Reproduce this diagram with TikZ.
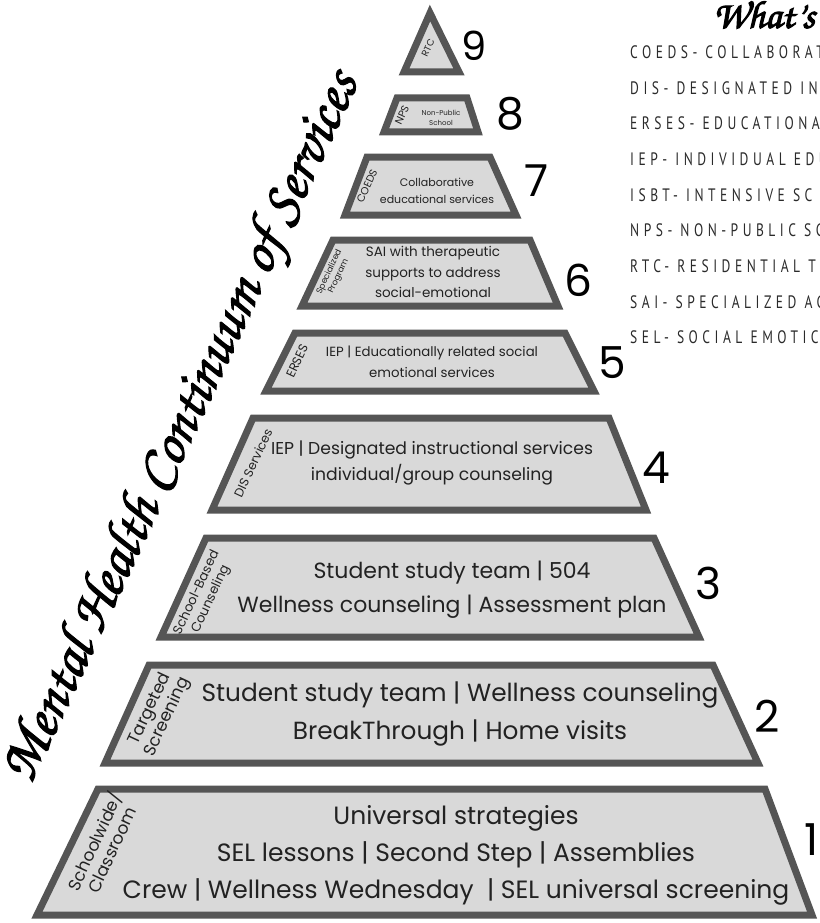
\documentclass[tikz,border=0pt]{standalone}
\usepackage{fontspec}
\setmainfont{Poppins}
\newfontfamily\legendfont[LetterSpace=25, FakeStretch=0.75]{PT Sans}
\usepackage{tikz}
\usetikzlibrary{positioning}
\newcommand{\handfont}{\usefont{OT1}{pzc}{mb}{it}}
\newcommand{\fsz}[2]{\fontsize{#1}{#2}\selectfont}
% heavier strokes for the hand lettering
\newcommand{\heavy}[1]{\special{pdf:literal q 2 Tr 1.1 w 0 G}#1\special{pdf:literal Q}}
\definecolor{tierfill}{HTML}{D9D9D9}
\definecolor{tierline}{HTML}{555555}
\definecolor{inktext}{HTML}{222222}
\definecolor{legendgrey}{HTML}{2A2A2A}
\tikzset{tier/.style = {draw=tierline, fill=tierfill, line width=7pt, line join=miter},
         tiertext/.style = {align=center, text=inktext, inner sep=0pt},
         sidetext/.style = {align=center, text=inktext, inner sep=0pt, rotate=65},
         tiernum/.style = {inner sep=0pt, font=\fsz{44}{44}},
         legendline/.style = {anchor=west, inner sep=0pt, text=legendgrey,
                              font=\legendfont\fsz{18}{18}}}

\begin{document}
\begin{tikzpicture}[x=1pt, y=-1pt]
  \useasboundingbox (0,0) rectangle (819,923);
  \clip (0,0) rectangle (819,923);
  % the nine tiers, bottom to top
  \draw [tier] (98,789) -- (765,789) -- (812,915) -- (37,915) -- cycle;
  \draw [tier] (149,665) -- (713,665) -- (758,763) -- (105,763) -- cycle;
  \draw [tier] (206,538) -- (654,538) -- (699,637) -- (161,637) -- cycle;
  \draw [tier] (253,418) -- (609,418) -- (646,510) -- (212,510) -- cycle;
  \draw [tier] (295,333) -- (565,333) -- (594,391) -- (266,391) -- cycle;
  \draw [tier] (333,240) -- (530,240) -- (558,306) -- (302,306) -- cycle;
  \draw [tier] (367,157) -- (490,157) -- (516,215) -- (345,215) -- cycle;
  \draw [tier] (397,98) -- (467,98) -- (478,132) -- (384,132) -- cycle;
  \draw [tier] (430,13) -- (459,72) -- (404,72) -- cycle;

  % texts in the tiers
  \node [tiertext, font=\fsz{25}{37}] (t1txt) at (456,855)
    {Universal strategies\\SEL lessons | Second Step | Assemblies\\Crew | Wellness Wednesday~ | SEL universal screening};
  \node [tiertext, font=\fsz{24.8}{38}] (t2txt) at (460,714)
    {Student study team | Wellness counseling\\BreakThrough | Home visits};
  \node [tiertext, font=\fsz{22}{34}] (t3txt) at (452,590)
    {Student study team | 504\\Wellness counseling | Assessment plan};
  \node [tiertext, font=\fsz{17.2}{26}] (t4txt) at (432,463)
    {IEP | Designated instructional services\\individual/group counseling};
  \node [tiertext, font=\fsz{13.3}{21}] (t5txt) at (432,362)
    {IEP | Educationally related social\\emotional services};
  \node [tiertext, font=\fsz{13.5}{20.5}] (t6txt) at (433,272)
    {SAI with therapeutic\\supports to address\\social-emotional};
  \node [tiertext, font=\fsz{11}{17}] (t7txt) at (437,191)
    {Collaborative\\educational services};
  \node [tiertext, font=\fsz{7}{10}] (t8txt) at (441,118) {Non-Public\\School};

  % labels along the left slant
  \node [sidetext, font=\fsz{17}{19}] (t1side) at (102,845) {Schoolwide/\\Classroom};
  \node [sidetext, font=\fsz{17}{19}] (t2side) at (159,713) {Targeted\\Screening};
  \node [sidetext, font=\fsz{13}{15.5}] (t3side) at (204,596) {School-Based\\Counseling};
  \node [sidetext, font=\fsz{12.5}{14}] (t4side) at (253,463) {DIS Services};
  \node [sidetext, font=\fsz{12.5}{14}] (t5side) at (297,361) {ERSES};
  \node [sidetext, font=\fsz{8.5}{10}] (t6side) at (334,274) {Specialized\\Program};
  \node [sidetext, font=\fsz{10.5}{12}] (t7side) at (367,186) {COEDS};
  \node [sidetext, font=\fsz{10.5}{12}] (t8side) at (402,115) {NPS};
  \node [sidetext, font=\fsz{9.5}{11}] (t9side) at (428,48) {RTC};

  % tier numbers
  \node [tiernum] (n1) at (812,840) {1};
  \node [tiernum] (n2) at (767,716) {2};
  \node [tiernum] (n3) at (708,583) {3};
  \node [tiernum] (n4) at (656,468) {4};
  \node [tiernum] (n5) at (612,363) {5};
  \node [tiernum] (n6) at (578,280) {6};
  \node [tiernum] (n7) at (537,181) {7};
  \node [tiernum] (n8) at (510,114) {8};
  \node [tiernum, font=\fsz{40}{40}] (n9) at (474,46) {9};

  % title and key
  \node [rotate=65, inner sep=0pt, font=\handfont\fsz{58}{58}] (title) at (184,428)
    {\heavy{Mental Health Continuum of Services}};
  \node [anchor=west, inner sep=0pt, font=\handfont\fsz{39}{39}] (whats) at (713,14) {\heavy{What's}};
  \node [legendline] (k1) at (630,52) {COEDS- COLLABORAT};
  \node [legendline] (k2) at (630,88) {DIS- DESIGNATED IN};
  \node [legendline] (k3) at (630,123) {ERSES- EDUCATIONA};
  \node [legendline] (k4) at (630,159) {IEP- INDIVIDUAL EDU};
  \node [legendline] (k5) at (630,195) {ISBT- INTENSIVE SC};
  \node [legendline] (k6) at (630,230) {NPS- NON-PUBLIC SC};
  \node [legendline] (k7) at (630,266) {RTC- RESIDENTIAL T};
  \node [legendline] (k8) at (630,302) {SAI- SPECIALIZED AC};
  \node [legendline] (k9) at (630,337) {SEL- SOCIAL EMOTIC};
\end{tikzpicture}
\end{document}
